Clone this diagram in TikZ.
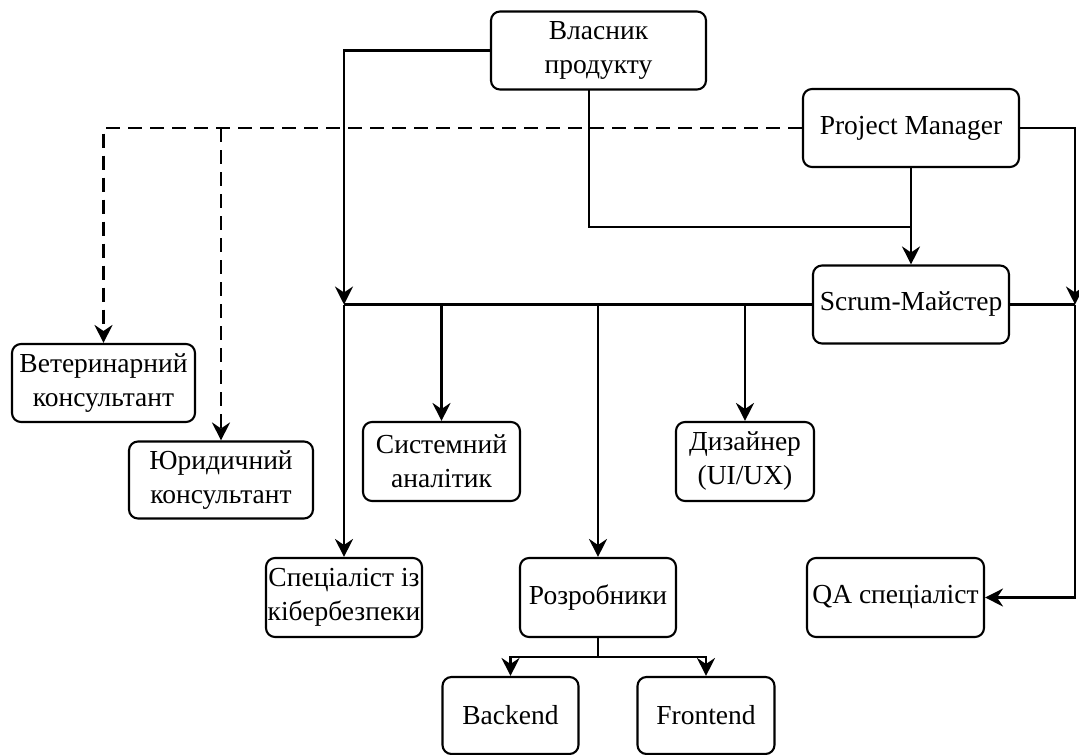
\documentclass[tikz,border=0pt]{standalone}
\usepackage{fontspec}
\setmainfont{Liberation Serif}
\usetikzlibrary{arrows.meta}
\begin{document}
\begin{tikzpicture}[x=1pt,y=-1pt,
  role/.style={draw, line width=2.1pt, rounded corners=9pt, align=center,
    inner sep=0pt, font=\fontsize{27.5}{34}\selectfont},
  link/.style={line width=2.1pt},
  arr/.style={link, -{Stealth[length=18pt,width=18pt,inset=6pt]}},
  dsh/.style={dash pattern=on 14pt off 8pt}]
\useasboundingbox (0,0) rectangle (1079,755);

% roles
\node[role, minimum width=215pt, minimum height=78pt] (owner) at (598.5,50.5) {Власник\\продукту};
\node[role, minimum width=216pt, minimum height=78pt] (pm) at (911,128) {Project Manager};
\node[role, minimum width=196pt, minimum height=78pt] (scrum) at (911,304.5) {Scrum-Майстер};
\node[role, minimum width=183pt, minimum height=78pt] (vet) at (103.5,383) {Ветеринарний\\консультант};
\node[role, minimum width=184pt, minimum height=77pt] (law) at (221,480) {Юридичний\\консультант};
\node[role, minimum width=157pt, minimum height=79pt] (sys) at (441.5,461.5) {Системний\\аналітик};
\node[role, minimum width=138pt, minimum height=79pt] (des) at (745,461.5) {Дизайнер\\(UI/UX)};
\node[role, minimum width=156pt, minimum height=79pt] (sec) at (344,597.5) {Спеціаліст із\\кібербезпеки};
\node[role, minimum width=156pt, minimum height=79pt] (dev) at (598,597.5) {Розробники};
\node[role, minimum width=177pt, minimum height=79pt] (qa) at (895.5,597.5) {QA спеціаліст};
\node[role, minimum width=136pt, minimum height=77pt] (back) at (510.5,715.5) {Backend};
\node[role, minimum width=137pt, minimum height=77pt] (front) at (706,715.5) {Frontend};

% junction points
\coordinate (busL) at (344,304.5);
\coordinate (busR) at (1075,304.5);
\coordinate (ownerOut) at (589,89.5);
\coordinate (merge) at (911,227);
\coordinate (devSplit) at (598,657);

% owner to the team bus
\draw[arr] (owner.west) -| (busL);
\draw[arr] (busL) -- (sec.north);
\draw[link] (busL) -- (scrum.west);
\draw[arr] (sys.north |- busL) -- (sys.north);
\draw[arr] (dev.north |- busL) -- (dev.north);
\draw[arr] (des.north |- busL) -- (des.north);

% owner and PM to Scrum master
\draw[link] (ownerOut) |- (merge);
\draw[arr] (pm.south) -- (scrum.north);

% PM to QA on the right
\draw[arr] (pm.east) -| (busR);
\draw[link] (scrum.east) -- (busR);
\draw[arr] (busR) |- (qa.east);

% consultants
\draw[arr, dsh] (pm.west) -| (vet.north);
\draw[arr, dsh] (law.north |- pm.west) -- (law.north);

% developers split
\draw[link] (dev.south) -- (devSplit);
\draw[arr] (devSplit) -| (back.north);
\draw[arr] (devSplit) -| (front.north);
\end{tikzpicture}
\end{document}
